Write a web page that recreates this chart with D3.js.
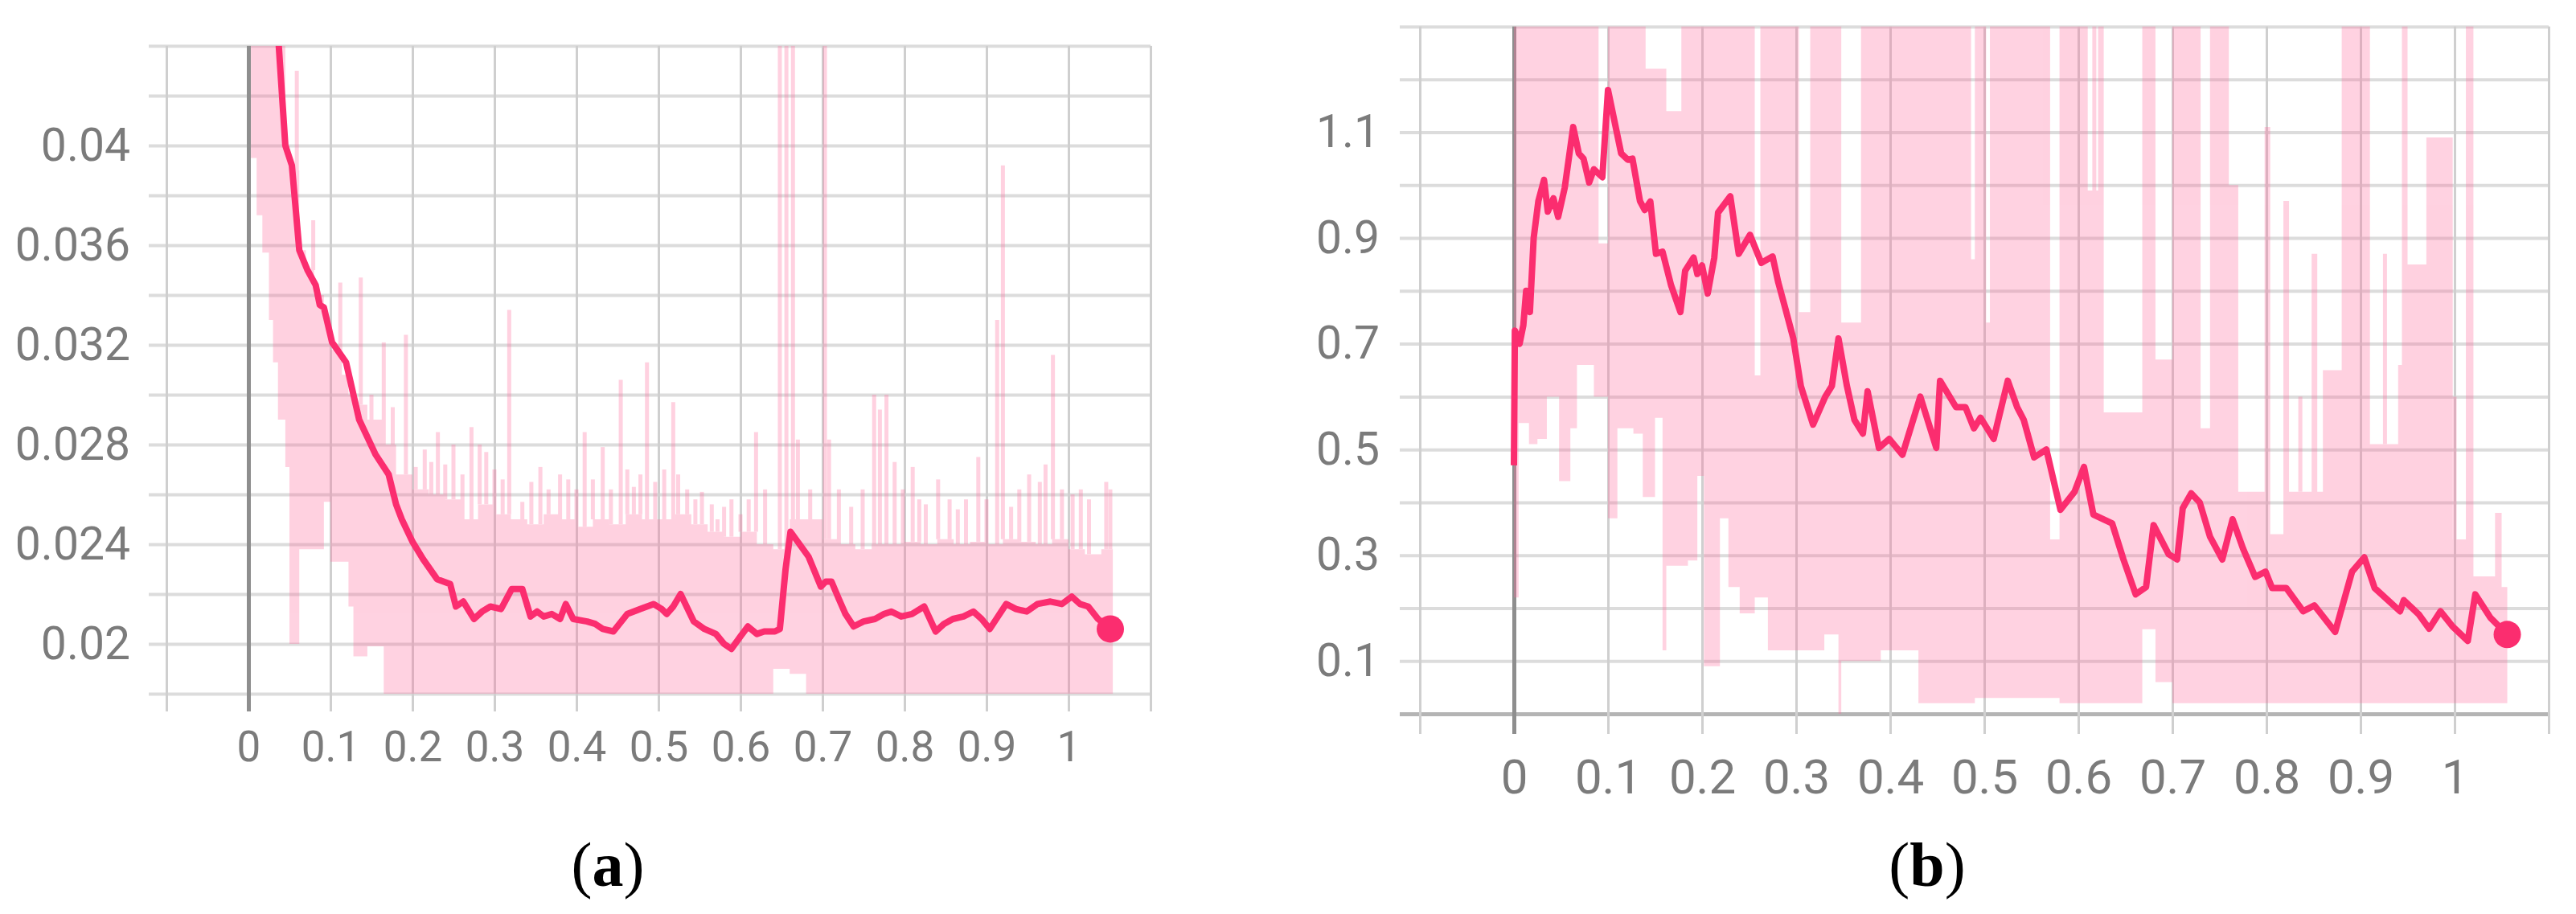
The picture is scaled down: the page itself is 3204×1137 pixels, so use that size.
<!DOCTYPE html>
<html>
<head>
<meta charset="utf-8">
<script src="https://cdn.jsdelivr.net/npm/d3@7"></script>
<style>
  body { margin: 0; background: #fff; }
  .tick text { font-family: Roboto, "Open Sans", sans-serif; fill: #7b7b7b; }
  .caption { font-family: "Liberation Serif", "Times New Roman", serif; fill: #000; }
</style>
</head>
<body>
<div id="chart"></div>
<script>
// shared x ticks (both panels)
var xTicks = [0, 0.1, 0.2, 0.3, 0.4, 0.5, 0.6, 0.7, 0.8, 0.9, 1];

// ---- panel (a) ----
var aYTicks = [0.02, 0.024, 0.028, 0.032, 0.036, 0.04];

// smoothed curve
var aLineX = [0.035, 0.037, 0.045, 0.053, 0.062, 0.072, 0.082, 0.087, 0.092, 0.102,
  0.119, 0.135, 0.155, 0.171, 0.180, 0.187, 0.200, 0.213, 0.230, 0.246,
  0.253, 0.262, 0.275, 0.285, 0.295, 0.308, 0.321, 0.334, 0.344, 0.352,
  0.360, 0.370, 0.380, 0.387, 0.396, 0.413, 0.423, 0.432, 0.445, 0.462,
  0.478, 0.494, 0.504, 0.510, 0.518, 0.527, 0.543, 0.556, 0.570, 0.580,
  0.589, 0.600, 0.609, 0.620, 0.629, 0.642, 0.648, 0.655, 0.661, 0.672,
  0.683, 0.698, 0.704, 0.711, 0.720, 0.728, 0.738, 0.750, 0.764, 0.775,
  0.784, 0.796, 0.809, 0.824, 0.838, 0.848, 0.859, 0.872, 0.884, 0.894,
  0.904, 0.914, 0.924, 0.936, 0.949, 0.962, 0.978, 0.992, 1.004, 1.014,
  1.024, 1.036, 1.051];
var aLineY = [0.0455, 0.0440, 0.0400, 0.0392, 0.0358, 0.0350, 0.0344, 0.0336, 0.0335, 0.0321,
  0.0313, 0.0290, 0.0276, 0.0268, 0.0256, 0.0250, 0.0241, 0.0234, 0.0226, 0.0224,
  0.0215, 0.0217, 0.0210, 0.0213, 0.0215, 0.0214, 0.0222, 0.0222, 0.0211, 0.0213,
  0.0211, 0.0212, 0.0210, 0.0216, 0.0210, 0.0209, 0.0208, 0.0206, 0.0205, 0.0212,
  0.0214, 0.0216, 0.0214, 0.0212, 0.0215, 0.0220, 0.0209, 0.0206, 0.0204, 0.0200,
  0.0198, 0.0203, 0.0207, 0.0204, 0.0205, 0.0205, 0.0206, 0.0230, 0.0245, 0.0240,
  0.0235, 0.0223, 0.0225, 0.0225, 0.0218, 0.0212, 0.0207, 0.0209, 0.0210, 0.0212,
  0.0213, 0.0211, 0.0212, 0.0215, 0.0205, 0.0208, 0.0210, 0.0211, 0.0213, 0.0210,
  0.0206, 0.0211, 0.0216, 0.0214, 0.0213, 0.0216, 0.0217, 0.0216, 0.0219, 0.0216,
  0.0215, 0.0210, 0.0206];

// raw values, read as a stepped low/high band
var aBandX = [0.003, 0.010, 0.017, 0.025, 0.030, 0.036, 0.045, 0.050, 0.062, 0.070,
  0.080, 0.092, 0.100, 0.114, 0.122, 0.128, 0.145, 0.165,
  0.18, 0.20, 0.22, 0.24, 0.26, 0.28, 0.30, 0.32, 0.34, 0.36, 0.38, 0.40, 0.42, 0.44, 0.46, 0.48,
  0.50, 0.52, 0.54, 0.56, 0.58, 0.60, 0.62, 0.64, 0.66, 0.68, 0.70, 0.72, 0.74, 0.76,
  0.78, 0.80, 0.82, 0.84, 0.86, 0.88, 0.90, 0.92, 0.94, 0.96, 0.98, 1.00, 1.02, 1.04, 1.054];
var aBandHi = [0.046, 0.046, 0.046, 0.046, 0.046, 0.046, 0.0400, 0.0390, 0.0358, 0.0350,
  0.0340, 0.0330, 0.0318, 0.0308, 0.0300, 0.0296, 0.0290, 0.0280,
  0.0268, 0.0262, 0.0260, 0.0258, 0.0250, 0.0256, 0.0252, 0.0250, 0.0248, 0.0252, 0.0250, 0.0247, 0.0250, 0.0248, 0.0252, 0.0250,
  0.0250, 0.0252, 0.0248, 0.0245, 0.0243, 0.0245, 0.0240, 0.0238, 0.0250, 0.0250, 0.0242, 0.0240, 0.0238, 0.0240,
  0.0240, 0.0241, 0.0240, 0.0242, 0.0240, 0.0241, 0.0240, 0.0242, 0.0241, 0.0240, 0.0242, 0.0238, 0.0236, 0.0238, 0.0238];
var aBandLo = [0.0395, 0.0372, 0.0357, 0.0330, 0.0313, 0.0290, 0.0271, 0.0200, 0.0238, 0.0238,
  0.0238, 0.0257, 0.0233, 0.0233, 0.0215, 0.0195, 0.0199, 0.0175,
  0.0175, 0.0175, 0.0175, 0.0175, 0.0175, 0.0175, 0.0175, 0.0175, 0.0175, 0.0175, 0.0175, 0.0175, 0.0175, 0.0175, 0.0175, 0.0175,
  0.0175, 0.0175, 0.0175, 0.0175, 0.0175, 0.0175, 0.0175, 0.0190, 0.0188, 0.0175, 0.0175, 0.0175, 0.0175, 0.0175,
  0.0175, 0.0175, 0.0175, 0.0175, 0.0175, 0.0175, 0.0175, 0.0175, 0.0175, 0.0175, 0.0175, 0.0175, 0.0175, 0.0175, 0.0175];

// thin raw spikes above the band
var aSpikeX = [0.059, 0.079, 0.112, 0.137, 0.150, 0.165, 0.176, 0.192, 0.204, 0.215,
  0.223, 0.231, 0.240, 0.250, 0.261, 0.272, 0.282, 0.290, 0.300, 0.310,
  0.318, 0.334, 0.345, 0.356, 0.366, 0.380, 0.390, 0.400, 0.410, 0.420,
  0.432, 0.442, 0.454, 0.462, 0.470, 0.478, 0.486, 0.496, 0.507, 0.518,
  0.524, 0.535, 0.545, 0.553, 0.565, 0.572, 0.580, 0.589, 0.600, 0.610,
  0.619, 0.630, 0.648, 0.656, 0.664, 0.670, 0.685, 0.703, 0.708, 0.720,
  0.735, 0.749, 0.763, 0.770, 0.778, 0.788, 0.798, 0.810, 0.818, 0.826,
  0.841, 0.855, 0.865, 0.875, 0.890, 0.900, 0.913, 0.920, 0.930, 0.940,
  0.952, 0.965, 0.972, 0.981, 0.992, 1.005, 1.015, 1.025, 1.046, 1.051];
var aSpikeHi = [0.0430, 0.0370, 0.0345, 0.0347, 0.0300, 0.0321, 0.0295, 0.0324, 0.0271, 0.0278,
  0.0273, 0.0285, 0.0272, 0.0280, 0.0268, 0.0287, 0.0280, 0.0277, 0.0270, 0.0266,
  0.0334, 0.0257, 0.0265, 0.0271, 0.0262, 0.0268, 0.0266, 0.0262, 0.0285, 0.0266,
  0.0279, 0.0262, 0.0306, 0.0270, 0.0263, 0.0268, 0.0313, 0.0265, 0.0270, 0.0297,
  0.0268, 0.0262, 0.0258, 0.0261, 0.0256, 0.0250, 0.0255, 0.0258, 0.0252, 0.0258,
  0.0285, 0.0262, 0.0460, 0.0460, 0.0460, 0.0282, 0.0262, 0.0460, 0.0282, 0.0262,
  0.0255, 0.0262, 0.0300, 0.0294, 0.0300, 0.0273, 0.0262, 0.0271, 0.0258, 0.0256,
  0.0266, 0.0258, 0.0254, 0.0258, 0.0275, 0.0258, 0.0330, 0.0392, 0.0255, 0.0262,
  0.0268, 0.0265, 0.0272, 0.0316, 0.0262, 0.0260, 0.0262, 0.0258, 0.0265, 0.0262];

// ---- panel (b) ----
var bYTicks = [0.1, 0.3, 0.5, 0.7, 0.9, 1.1];

var bLineX = [0.000, 0.001, 0.006, 0.010, 0.013, 0.017, 0.021, 0.026, 0.032, 0.036,
  0.042, 0.047, 0.054, 0.063, 0.069, 0.074, 0.080, 0.085, 0.094, 0.100,
  0.107, 0.114, 0.121, 0.126, 0.134, 0.139, 0.145, 0.151, 0.158, 0.167,
  0.177, 0.182, 0.191, 0.195, 0.200, 0.206, 0.213, 0.217, 0.230, 0.239,
  0.251, 0.263, 0.275, 0.281, 0.288, 0.297, 0.305, 0.318, 0.331, 0.338,
  0.345, 0.354, 0.362, 0.371, 0.376, 0.388, 0.399, 0.413, 0.432, 0.449,
  0.453, 0.470, 0.480, 0.489, 0.496, 0.510, 0.525, 0.535, 0.542, 0.553,
  0.566, 0.581, 0.596, 0.606, 0.616, 0.636, 0.648, 0.661, 0.672, 0.680,
  0.696, 0.705, 0.711, 0.720, 0.729, 0.740, 0.753, 0.764, 0.775, 0.788,
  0.799, 0.806, 0.821, 0.839, 0.851, 0.873, 0.891, 0.904, 0.915, 0.942,
  0.946, 0.962, 0.973, 0.985, 0.998, 1.014, 1.022, 1.038, 1.056];
var bLineY = [0.470, 0.725, 0.700, 0.735, 0.800, 0.760, 0.900, 0.970, 1.010, 0.950,
  0.975, 0.940, 0.995, 1.110, 1.060, 1.050, 1.005, 1.030, 1.015, 1.180,
  1.120, 1.060, 1.048, 1.050, 0.970, 0.953, 0.969, 0.870, 0.874, 0.811,
  0.760, 0.838, 0.863, 0.832, 0.848, 0.795, 0.863, 0.948, 0.979, 0.870,
  0.906, 0.853, 0.865, 0.816, 0.770, 0.710, 0.620, 0.547, 0.600, 0.620,
  0.710, 0.620, 0.556, 0.530, 0.610, 0.503, 0.520, 0.490, 0.600, 0.503,
  0.630, 0.580, 0.580, 0.540, 0.560, 0.520, 0.630, 0.580, 0.556, 0.485,
  0.500, 0.386, 0.420, 0.467, 0.377, 0.360, 0.292, 0.226, 0.240, 0.357,
  0.302, 0.292, 0.389, 0.417, 0.400, 0.335, 0.292, 0.368, 0.313, 0.259,
  0.269, 0.238, 0.238, 0.194, 0.205, 0.155, 0.269, 0.296, 0.238, 0.194,
  0.215, 0.188, 0.161, 0.194, 0.165, 0.138, 0.226, 0.182, 0.150];

var bBandX = [0.000, 0.005, 0.016, 0.025, 0.035, 0.048, 0.060, 0.067, 0.085, 0.090,
  0.100, 0.110, 0.127, 0.137, 0.140, 0.150, 0.158, 0.162, 0.167, 0.178,
  0.185, 0.195, 0.202, 0.219, 0.228, 0.240, 0.256, 0.262, 0.270, 0.303,
  0.315, 0.330, 0.345, 0.348, 0.369, 0.390, 0.430, 0.486, 0.490, 0.502,
  0.506, 0.570, 0.580, 0.610, 0.621, 0.627, 0.668, 0.682, 0.700, 0.730,
  0.740, 0.760, 0.770, 0.798, 0.804, 0.818, 0.824, 0.848, 0.854, 0.860,
  0.880, 0.910, 0.940, 0.944, 0.950, 0.970, 0.998, 1.012, 1.020, 1.043,
  1.050, 1.056];
var bBandHi = [1.35, 1.35, 1.35, 1.35, 1.35, 1.35, 1.35, 1.35, 1.35, 0.89,
  1.35, 1.35, 1.35, 1.35, 1.22, 1.22, 1.22, 1.14, 1.14, 1.35,
  1.35, 1.35, 1.35, 1.35, 1.35, 1.35, 0.64, 1.35, 1.35, 0.76,
  1.35, 1.35, 1.35, 0.74, 1.35, 1.35, 1.35, 0.86, 1.35, 0.74,
  1.35, 0.33, 1.35, 0.99, 1.35, 0.57, 1.35, 0.67, 1.35, 0.54,
  1.35, 1.00, 0.42, 1.11, 0.34, 0.97, 0.42, 0.87, 0.42, 0.65,
  1.35, 0.51, 0.66, 1.35, 0.85, 1.09, 0.33, 1.35, 0.26, 0.38,
  0.24, 0.24];
var bBandLo = [0.22, 0.55, 0.51, 0.52, 0.60, 0.44, 0.54, 0.66, 0.60, 0.60,
  0.37, 0.54, 0.53, 0.41, 0.41, 0.56, 0.12, 0.28, 0.28, 0.28,
  0.29, 0.45, 0.09, 0.37, 0.24, 0.19, 0.22, 0.22, 0.12, 0.12,
  0.12, 0.15, 0.00, 0.10, 0.10, 0.12, 0.02, 0.02, 0.03, 0.03,
  0.03, 0.03, 0.02, 0.02, 0.02, 0.02, 0.16, 0.06, 0.02, 0.02,
  0.02, 0.02, 0.02, 0.02, 0.02, 0.02, 0.02, 0.02, 0.02, 0.02,
  0.02, 0.02, 0.02, 0.02, 0.02, 0.02, 0.02, 0.02, 0.02, 0.02,
  0.02, 0.02];

var bSpikeX = [0.590, 0.617, 0.676, 0.763, 0.836, 0.926, 1.000];
var bSpikeHi = [1.35, 1.35, 1.35, 1.00, 0.60, 0.87, 0.60];

var W = 3204, H = 1137;
var svg = d3.select("#chart").append("svg")
    .attr("width", W).attr("height", H)
    .style("display", "block");

var panels = [
  { id: "a", left: 207, right: 1431, top: 57, bottom: 863, yDomain: [0.018, 0.044],
    yGrid: d3.range(9, 23).map(function(i){ return i * 0.002; }), yTicks: aYTicks,
    yFont: 57, xFont: 53, yPad: 23, xPad: 24, tick: 22, bottomDark: false,
    lineX: aLineX, lineY: aLineY, bandX: aBandX, bandLo: aBandLo, bandHi: aBandHi,
    spikeX: aSpikeX, spikeHi: aSpikeHi, captionX: 756 },
  { id: "b", left: 1766, right: 3170, top: 33, bottom: 888, yDomain: [0, 1.3],
    yGrid: d3.range(0, 14).map(function(i){ return i * 0.1; }), yTicks: bYTicks,
    yFont: 57, xFont: 60, yPad: 25, xPad: 31, tick: 25, bottomDark: true,
    lineX: bLineX, lineY: bLineY, bandX: bBandX, bandLo: bBandLo, bandHi: bBandHi,
    spikeX: bSpikeX, spikeHi: bSpikeHi, captionX: 2397 }
];

panels.forEach(function(p){ drawPanel(svg, p); });

function fmt(v) { return String(+v.toFixed(3)); }

function drawPanel(svg, p) {
  var x = d3.scaleLinear().domain([-0.1, 1.1]).range([p.left, p.right]);
  var y = d3.scaleLinear().domain(p.yDomain).range([p.bottom, p.top]);

  // horizontal grid, with y labels on every other line
  var yAxis = d3.axisLeft(y)
      .tickValues(p.yGrid)
      .tickSize(-(p.right - p.left + p.tick))
      .tickPadding(p.yPad)
      .tickFormat(function(v){
        var hit = p.yTicks.some(function(t){ return Math.abs(t - v) < 1e-9; });
        return hit ? fmt(v) : "";
      });
  var gy = svg.append("g")
      .attr("transform", "translate(" + (p.left - p.tick) + ",0)")
      .call(yAxis);
  gy.select(".domain").remove();
  gy.selectAll(".tick line").attr("stroke", "#dcdcdc").attr("stroke-width", 4);
  gy.selectAll(".tick text").style("font-size", p.yFont + "px");
  if (p.bottomDark) {
    gy.selectAll(".tick").filter(function(d){ return Math.abs(d) < 1e-9; })
      .select("line").attr("stroke", "#b4b4b4").attr("stroke-width", 5);
  }

  // vertical grid + x labels
  var xGrid = d3.range(-1, 12).map(function(i){ return i / 10; });
  var xAxis = d3.axisBottom(x)
      .tickValues(xGrid)
      .tickSize(-(p.bottom - p.top + p.tick))
      .tickPadding(p.xPad)
      .tickFormat(function(v){
        var hit = xTicks.some(function(t){ return Math.abs(t - v) < 1e-9; });
        return hit ? fmt(v) : "";
      });
  var gx = svg.append("g")
      .attr("transform", "translate(0," + (p.bottom + p.tick) + ")")
      .call(xAxis);
  gx.select(".domain").remove();
  gx.selectAll(".tick line").attr("stroke", "#cfcfcf").attr("stroke-width", 3);
  gx.selectAll(".tick text").style("font-size", p.xFont + "px");
  gx.selectAll(".tick").filter(function(d){ return Math.abs(d) < 1e-9; })
    .select("line").attr("stroke", "#8e8e8e").attr("stroke-width", 5);

  // clip to the plot box
  svg.append("clipPath").attr("id", "clip-" + p.id)
    .append("rect")
      .attr("x", p.left).attr("y", p.top)
      .attr("width", p.right - p.left).attr("height", p.bottom - p.top);

  var plot = svg.append("g").attr("clip-path", "url(#clip-" + p.id + ")");

  // raw series: light translucent band + spikes
  var band = p.bandX.map(function(v, i){ return { x: v, lo: p.bandLo[i], hi: p.bandHi[i] }; });
  var area = d3.area()
      .x(function(d){ return x(d.x); })
      .y0(function(d){ return y(d.lo); })
      .y1(function(d){ return y(d.hi); })
      .curve(d3.curveStepAfter);

  var raw = plot.append("g").attr("opacity", 0.3);
  raw.append("path").datum(band)
      .attr("d", area)
      .attr("fill", "#ff6a9c");

  var bisect = d3.bisector(function(d){ return d.x; }).right;
  function baseAt(v) {
    var i = Math.max(0, bisect(band, v) - 1);
    return band[i].hi;
  }
  raw.selectAll("line.spike")
    .data(p.spikeX.map(function(v, i){ return { x: v, hi: p.spikeHi[i] }; }))
    .enter().append("line")
      .attr("class", "spike")
      .attr("x1", function(d){ return x(d.x); })
      .attr("x2", function(d){ return x(d.x); })
      .attr("y1", function(d){ return y(Math.min(baseAt(d.x), d.hi)); })
      .attr("y2", function(d){ return y(d.hi); })
      .attr("stroke", "#ff6a9c")
      .attr("stroke-width", 5);

  // smoothed series
  var pts = p.lineX.map(function(v, i){ return [v, p.lineY[i]]; });
  var line = d3.line()
      .x(function(d){ return x(d[0]); })
      .y(function(d){ return y(d[1]); });
  plot.append("path").datum(pts)
      .attr("d", line)
      .attr("fill", "none")
      .attr("stroke", "#fb2d6f")
      .attr("stroke-width", 8)
      .attr("stroke-linejoin", "round");

  var last = pts[pts.length - 1];
  svg.append("circle")
      .attr("cx", x(last[0])).attr("cy", y(last[1]))
      .attr("r", 17)
      .attr("fill", "#fb2d6f");

  // panel caption
  var cap = svg.append("text")
      .attr("class", "caption")
      .attr("x", p.captionX).attr("y", 1102)
      .attr("text-anchor", "middle")
      .style("font-size", "78px");
  cap.append("tspan").text("(");
  cap.append("tspan").style("font-weight", "bold").text(p.id);
  cap.append("tspan").text(")");
}
</script>
</body>
</html>
